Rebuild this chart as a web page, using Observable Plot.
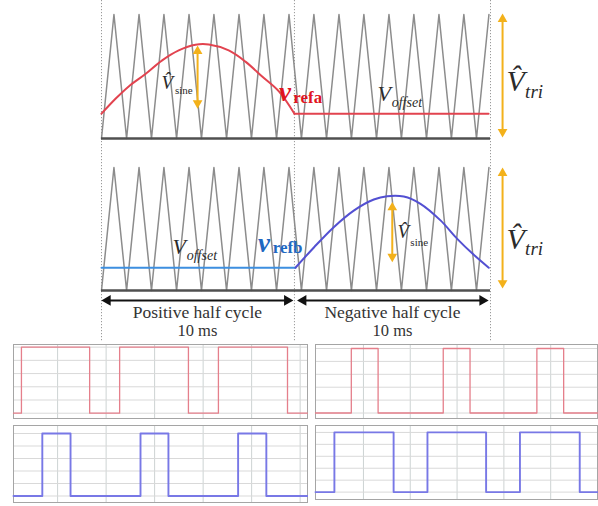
<!DOCTYPE html>
<html><head><meta charset="utf-8">
<script src="https://cdn.jsdelivr.net/npm/d3@7"></script>
<script src="https://cdn.jsdelivr.net/npm/@observablehq/plot@0.6"></script>
<style>
body{margin:0;background:#fff;}
#wrap{position:relative;width:598px;height:506px;overflow:hidden;background:#fff;}
#wrap svg{position:absolute;display:block;}
</style></head><body><div id="wrap"></div>
<script>
// ---------- data (time in ms, level as fraction of triangle peak) ----------
const carrierPeaks   = [0.64, 1.93, 3.21, 4.50, 5.78, 7.07, 8.35, 9.64, 10.92, 12.21, 13.49, 14.78, 16.06, 17.35, 18.63, 19.92];
const carrierValleys = [0, 1.29, 2.57, 3.86, 5.14, 6.43, 7.71, 9.00, 10.28, 11.57, 12.85, 14.14, 15.42, 16.71, 17.99, 19.28];
const halfCycleBounds = [0, 9.92, 20];

const refA_t = [0, 0.72, 1.40, 2.26, 3.12, 3.97, 4.83, 5.52, 6.54, 7.40, 8.26, 9.12, 9.92];
const refA_v = [0.20, 0.32, 0.42, 0.52, 0.63, 0.71, 0.756, 0.758, 0.71, 0.62, 0.50, 0.38, 0.20];
const offsetA_t = [9.92, 19.90];
const offsetA_v = [0.20, 0.20];

const refB_t = [9.97, 10.92, 11.94, 12.97, 14.00, 14.69, 15.54, 16.40, 17.43, 18.29, 19.14, 19.91];
const refB_v = [0.185, 0.35, 0.515, 0.65, 0.74, 0.767, 0.764, 0.705, 0.57, 0.42, 0.29, 0.185];
const offsetB_t = [0, 9.97];
const offsetB_v = [0.185, 0.185];

const halfCycleNames = ["Positive half cycle", "Negative half cycle"];
const halfCycleLength = "10 ms";

// PWM scope traces (time 0..10 across each box, level 0/1)
const levels = [0, 1, 0, 1, 0, 1, 0, 0];
const pwmA1_t = [0, 0.27, 2.59, 3.61, 5.95, 6.97, 9.32, 10];
const pwmB1_t = [0, 0.98, 1.94, 4.32, 5.27, 7.64, 8.60, 10];
const pwmA2_t = [0, 1.27, 2.22, 4.53, 5.48, 7.85, 8.80, 10];
const pwmB2_t = [0, 0.67, 2.77, 3.97, 6.05, 7.25, 9.37, 10];
const gridLeft  = [1.5, 3.15, 4.8, 6.45, 8.1, 9.75];
const gridRight = [1.7, 3.36, 5.02, 6.68, 8.34];
const gridLevels = [0, 0.2, 0.4, 0.6, 0.8, 1];

// ---------- helpers ----------
const wrap = document.getElementById("wrap");
const zip = (ts, vs) => ts.map((t, i) => ({t, v: vs[i]}));
const carrier = [...carrierValleys.map(t => ({t, v: 0})), ...carrierPeaks.map(t => ({t, v: 1}))].sort((a, b) => a.t - b.t);
const SERIF = "Liberation Serif, Times New Roman, serif";
const YEL = "#f3b11a";
const VHAT = "V\u0302";

function label(s, t, v, o = {}) {
  return Plot.text([{t, v, s}], {x: "t", y: "v", text: "s", lineAnchor: "bottom", textAnchor: "start",
    fontFamily: SERIF, fill: "#2b2b2b", ...o});
}
const HEAD_R = 3.6;
const HEAD_OFF = 2 * Math.sqrt(HEAD_R * HEAD_R * Math.PI / (3 * Math.sqrt(3)));
function vArrow(t, vTop, vBot, color) {
  return [
    Plot.ruleX([t], {y1: vTop, y2: vBot, stroke: color, strokeWidth: 2, insetTop: HEAD_OFF, insetBottom: HEAD_OFF}),
    Plot.dot([{t, v: vTop}], {x: "t", y: "v", symbol: "triangle", r: HEAD_R, fill: color, stroke: null, dy: HEAD_OFF}),
    Plot.dot([{t, v: vBot}], {x: "t", y: "v", symbol: "triangle", r: HEAD_R, fill: color, stroke: null, rotate: 180, dy: -HEAD_OFF})
  ];
}
function hArrow(t1, t2, v, color) {
  return [
    Plot.ruleY([v], {x1: t1, x2: t2, stroke: color, strokeWidth: 2, insetLeft: HEAD_OFF, insetRight: HEAD_OFF}),
    Plot.dot([{t: t1, v}], {x: "t", y: "v", symbol: "triangle", r: HEAD_R + 0.4, fill: color, stroke: null, rotate: -90, dx: HEAD_OFF + 0.5}),
    Plot.dot([{t: t2, v}], {x: "t", y: "v", symbol: "triangle", r: HEAD_R + 0.4, fill: color, stroke: null, rotate: 90, dx: -HEAD_OFF - 0.5})
  ];
}
function place(svg, left, top) {
  svg.style.left = left + "px"; svg.style.top = top + "px";
  wrap.appendChild(svg);
}
function panelMarks(vTopEdge, vBotEdge) {
  return [
    Plot.ruleX(halfCycleBounds, {y1: vTopEdge, y2: vBotEdge, stroke: "#9a9a9a", strokeWidth: 1, strokeDasharray: "1.2,1.8"}),
    Plot.line(carrier, {x: "t", y: "v", stroke: "#8c8c8c", strokeWidth: 1.5}),
    Plot.ruleY([0], {x1: 0, x2: 20, stroke: "#505050", strokeWidth: 2.6})
  ];
}

// ---------- top panel (phase a) ----------
const topPanel = Plot.plot({
  width: 598, height: 150, marginTop: 14, marginBottom: 12, marginLeft: 101, marginRight: 108,
  x: {domain: [0, 20], axis: null}, y: {domain: [0, 1], axis: null},
  style: {background: "transparent", overflow: "visible"},
  marks: [
    ...panelMarks(1.113, -0.097),
    Plot.line(zip(offsetA_t, offsetA_v), {x: "t", y: "v", stroke: "#e2434f", strokeWidth: 2}),
    Plot.line(zip(refA_t, refA_v), {x: "t", y: "v", stroke: "#e2434f", strokeWidth: 2, curve: "catmull-rom"}),
    ...vArrow(4.94, 0.75, 0.24, YEL),
    ...vArrow(20.62, 1.008, 0.008, YEL),
    label(VHAT, 3.08, 0.403, {fontSize: 19, fontStyle: "italic"}),
    label("sine", 3.78, 0.355, {fontSize: 11}),
    label("v", 9.12, 0.30, {fontSize: 27, fontStyle: "italic", fontWeight: "bold", fill: "#e0141e"}),
    label("refa", 9.86, 0.29, {fontSize: 17, fontWeight: "bold", fill: "#e0141e"}),
    label("V", 14.19, 0.306, {fontSize: 22, fontStyle: "italic"}),
    label("offset", 14.92, 0.258, {fontSize: 14, fontStyle: "italic"}),
    label(VHAT, 20.82, 0.387, {fontSize: 30, fontStyle: "italic"}),
    label("tri", 21.78, 0.33, {fontSize: 19, fontStyle: "italic"})
  ]
});
place(topPanel, 0, 0);

// ---------- bottom panel (phase b) ----------
const botPanel = Plot.plot({
  width: 598, height: 195, marginTop: 17, marginBottom: 55, marginLeft: 101, marginRight: 108,
  x: {domain: [0, 20], axis: null}, y: {domain: [0, 1], axis: null},
  style: {background: "transparent", overflow: "visible"},
  marks: [
    ...panelMarks(1.138, -0.42),
    Plot.line(zip(offsetB_t, offsetB_v), {x: "t", y: "v", stroke: "#3d8fe0", strokeWidth: 2}),
    Plot.line(zip(refB_t, refB_v), {x: "t", y: "v", stroke: "#5350d2", strokeWidth: 2, curve: "catmull-rom"}),
    ...vArrow(14.95, 0.72, 0.23, YEL),
    ...vArrow(20.62, 1.0, 0.016, YEL),
    label("V", 3.65, 0.30, {fontSize: 22, fontStyle: "italic"}),
    label("offset", 4.38, 0.244, {fontSize: 14, fontStyle: "italic"}),
    label("v", 8.05, 0.317, {fontSize: 27, fontStyle: "italic", fontWeight: "bold", fill: "#1f68c0"}),
    label("refb", 8.8, 0.305, {fontSize: 17, fontWeight: "bold", fill: "#1f68c0"}),
    label(VHAT, 15.22, 0.423, {fontSize: 19, fontStyle: "italic"}),
    label("sine", 15.88, 0.358, {fontSize: 11}),
    label(VHAT, 20.82, 0.341, {fontSize: 30, fontStyle: "italic"}),
    label("tri", 21.78, 0.29, {fontSize: 19, fontStyle: "italic"}),
    ...hArrow(0, 9.86, -0.081, "#111"),
    ...hArrow(10.06, 19.9, -0.081, "#111"),
    Plot.text(halfCycleNames, {x: [4.93, 14.96], y: -0.22, text: d => d, lineAnchor: "bottom", textAnchor: "middle",
      fontFamily: SERIF, fontSize: 17.5, fill: "#333"}),
    Plot.text([halfCycleLength, halfCycleLength], {x: [4.93, 14.96], y: -0.372, text: d => d, lineAnchor: "bottom", textAnchor: "middle",
      fontFamily: SERIF, fontSize: 16.5, fill: "#333"})
  ]
});
place(botPanel, 0, 150);

// ---------- PWM scope plots ----------
function scope(times, grid, yDomain, color, sw, left, top, w, h) {
  const svg = Plot.plot({
    width: w + 2, height: h + 2, margin: 1,
    x: {domain: [0, 10], axis: null}, y: {domain: yDomain, axis: null},
    style: {background: "transparent"},
    marks: [
      Plot.ruleX(grid, {stroke: "#cdd3d3", strokeWidth: 1}),
      Plot.ruleY(gridLevels, {stroke: "#d9d9d9", strokeWidth: 1}),
      Plot.frame({stroke: "#a5a5a5"}),
      Plot.line(zip(times, levels), {x: "t", y: "v", curve: "step-after", stroke: color, strokeWidth: sw})
    ]
  });
  place(svg, left - 1, top - 1);
}
scope(pwmA1_t, gridLeft,  [-0.08, 1.04],  "#e57f8b", 1.3, 13, 344, 294, 74);
scope(pwmB1_t, gridLeft,  [-0.104, 1.128], "#7878e6", 1.9, 13, 425, 294, 77);
scope(pwmA2_t, gridRight, [-0.085, 1.062], "#e57f8b", 1.3, 315, 344, 282, 74);
scope(pwmB2_t, gridRight, [-0.124, 1.116], "#7878e6", 1.9, 315, 425, 282, 74);
</script></body></html>
